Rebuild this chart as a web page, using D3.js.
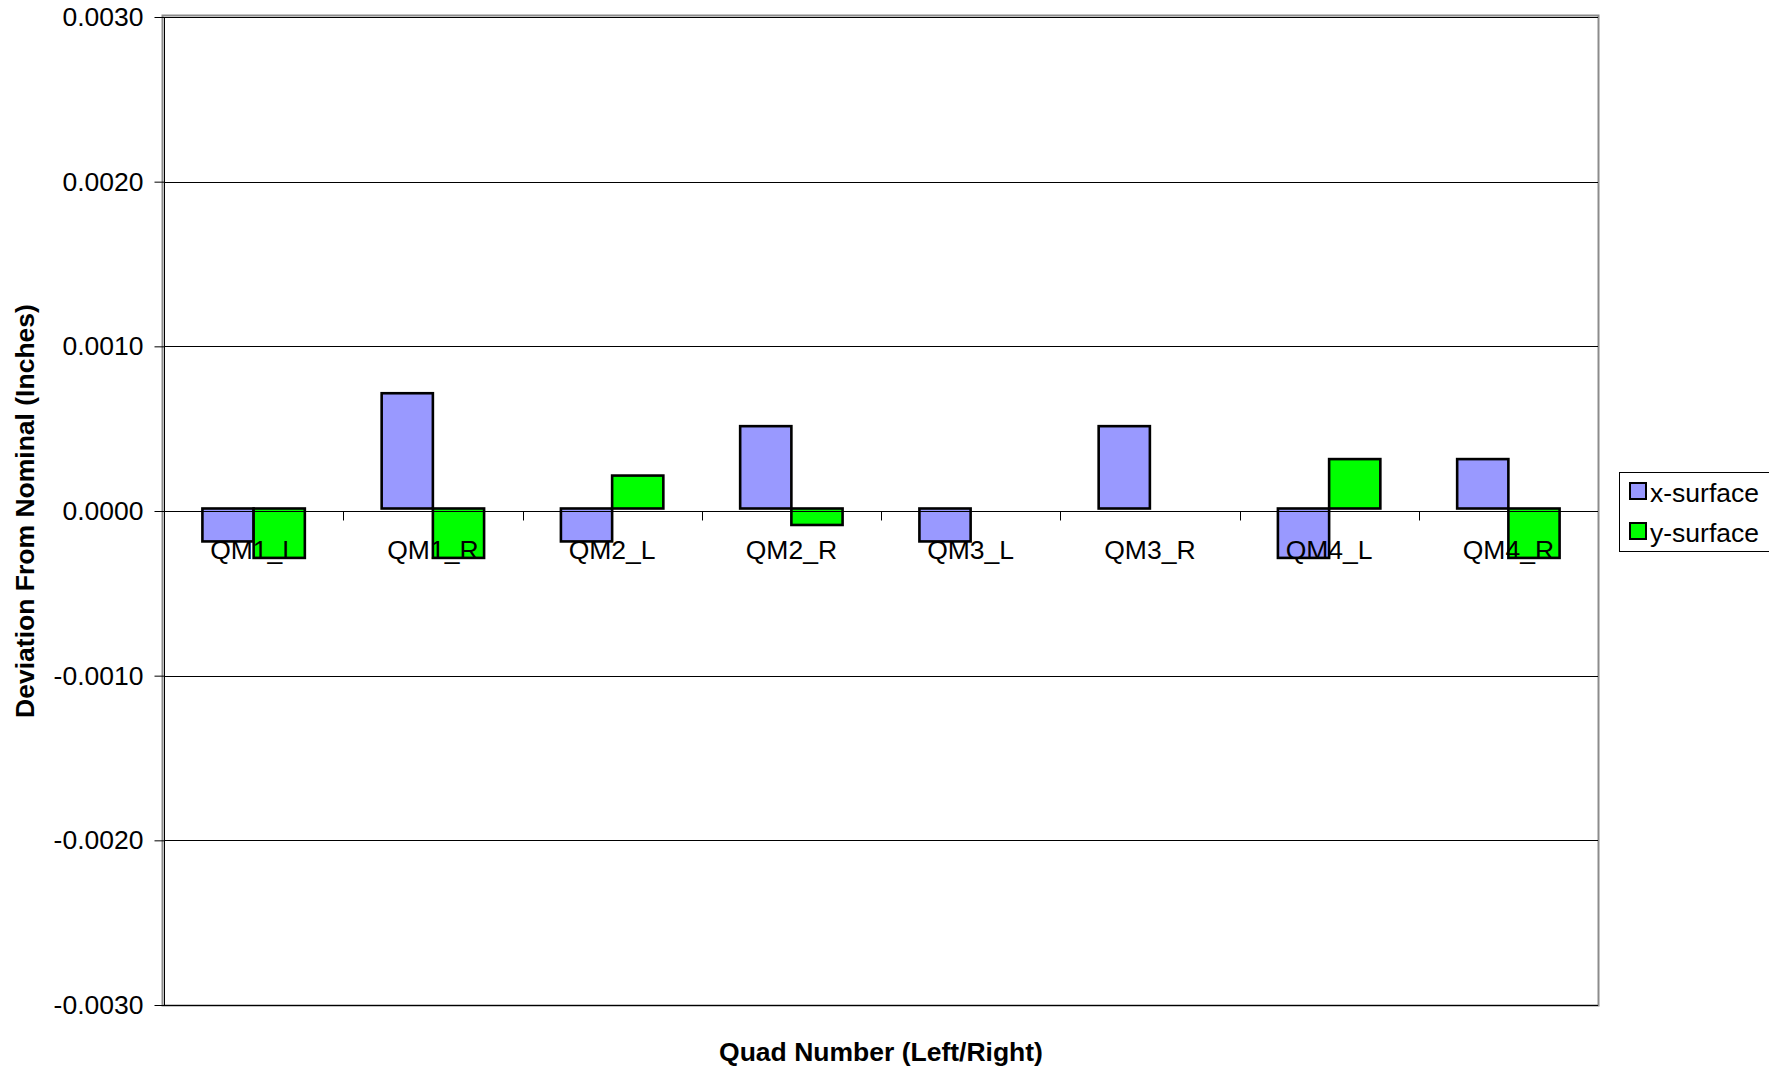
<!DOCTYPE html>
<html>
<head>
<meta charset="utf-8">
<script src="https://cdn.jsdelivr.net/npm/d3@7"></script>
<style>
  body { margin: 0; background: #fff; }
  svg { display: block; font-family: "Liberation Sans", Arial, sans-serif; }
</style>
</head>
<body>
<svg width="1769" height="1068"></svg>
<script>
// data
const categories = ["QM1_L", "QM1_R", "QM2_L", "QM2_R", "QM3_L", "QM3_R", "QM4_L", "QM4_R"];
const seriesNames = ["x-surface", "y-surface"];
const xSurface = [-0.0002, 0.0007, -0.0002, 0.0005, -0.0002, 0.0005, -0.0003, 0.0003];
const ySurface = [-0.0003, -0.0003, 0.0002, -0.0001, null, null, 0.0003, -0.0003];
const yTicks = [-0.003, -0.002, -0.001, 0, 0.001, 0.002, 0.003];
const colors = ["#9999ff", "#00ff00"];

const svg = d3.select("svg");
const plot = { left: 164, right: 1598, top: 17, bottom: 1005 };
const fontSize = "26.5px";

const x0 = d3.scaleBand()
  .domain(categories)
  .range([plot.left, plot.right])
  .padding(0);

const x1 = d3.scaleBand()
  .domain(seriesNames)
  .range([0, x0.bandwidth()])
  .paddingInner(0)
  .paddingOuter(0.75);

const y = d3.scaleLinear()
  .domain([-0.003, 0.003])
  .range([plot.bottom, plot.top]);

const color = d3.scaleOrdinal(seriesNames, colors);

// plot border (grey frame)
svg.append("rect")
  .attr("x", plot.left - 1.5)
  .attr("y", plot.top - 1.5)
  .attr("width", plot.right - plot.left + 2)
  .attr("height", plot.bottom - plot.top + 2)
  .attr("fill", "none")
  .attr("stroke", "#8c8c8c")
  .attr("stroke-width", 2);

// gridlines + y axis
const yAxis = d3.axisLeft(y)
  .tickValues(yTicks)
  .tickSize(10)
  .tickPadding(11)
  .tickFormat(d => d.toFixed(4));

svg.append("g")
  .attr("class", "grid")
  .selectAll("line")
  .data(yTicks)
  .join("line")
  .attr("x1", plot.left)
  .attr("x2", plot.right)
  .attr("y1", d => Math.round(y(d)) + 0.5)
  .attr("y2", d => Math.round(y(d)) + 0.5)
  .attr("stroke", "#000")
  .attr("stroke-width", 1);

const gy = svg.append("g")
  .attr("transform", `translate(${plot.left + 0.5},0)`)
  .call(yAxis);
gy.select(".domain").attr("stroke", "#000").attr("d", `M0,${plot.top}V${plot.bottom}`);
gy.selectAll(".tick line").attr("stroke", "#000");
gy.selectAll(".tick text")
  .attr("fill", "#000")
  .style("font-size", fontSize)
  .style("font-family", "Liberation Sans, Arial, sans-serif");

// bars
const rows = categories.map((c, i) => ({ cat: c, values: [xSurface[i], ySurface[i]] }));

const barG = svg.append("g").attr("transform", "translate(0,-2.5)");
barG.selectAll("g")
  .data(rows)
  .join("g")
  .attr("transform", d => `translate(${x0(d.cat)},0)`)
  .selectAll("rect")
  .data(d => d.values.map((v, k) => ({ key: seriesNames[k], value: v })).filter(e => e.value !== null))
  .join("rect")
  .attr("x", d => x1(d.key))
  .attr("width", x1.bandwidth())
  .attr("y", d => Math.min(y(d.value), y(0)))
  .attr("height", d => Math.abs(y(d.value) - y(0)))
  .attr("fill", d => color(d.key))
  .attr("stroke", "#000")
  .attr("stroke-width", 2.6);

// category axis on the zero line
const zeroY = Math.round(y(0)) + 0.5;
svg.append("line")
  .attr("x1", plot.left)
  .attr("x2", plot.right)
  .attr("y1", zeroY)
  .attr("y2", zeroY)
  .attr("stroke", "#000")
  .attr("stroke-width", 1);

svg.append("g")
  .selectAll("line")
  .data(categories.slice(1))
  .join("line")
  .attr("x1", d => Math.round(x0(d)) + 0.5)
  .attr("x2", d => Math.round(x0(d)) + 0.5)
  .attr("y1", zeroY)
  .attr("y2", zeroY + 9)
  .attr("stroke", "#000");

svg.append("g")
  .selectAll("text")
  .data(categories)
  .join("text")
  .attr("x", d => x0(d) + x0.bandwidth() / 2)
  .attr("y", zeroY + 47)
  .attr("text-anchor", "middle")
  .style("font-size", fontSize)
  .text(d => d);

// axis titles
svg.append("text")
  .attr("x", (plot.left + plot.right) / 2)
  .attr("y", 1061)
  .attr("text-anchor", "middle")
  .style("font-size", fontSize)
  .style("font-weight", "bold")
  .text("Quad Number (Left/Right)");

svg.append("text")
  .attr("transform", `translate(34,${(plot.top + plot.bottom) / 2}) rotate(-90)`)
  .attr("text-anchor", "middle")
  .style("font-size", fontSize)
  .style("font-weight", "bold")
  .text("Deviation From Nominal (Inches)");

// legend
const legend = svg.append("g").attr("transform", "translate(1619,472)");
legend.append("rect")
  .attr("x", 0.5)
  .attr("y", 0.5)
  .attr("width", 160)
  .attr("height", 79)
  .attr("fill", "#fff")
  .attr("stroke", "#000")
  .attr("stroke-width", 1);

const item = legend.selectAll("g.item")
  .data(seriesNames)
  .join("g")
  .attr("class", "item")
  .attr("transform", (d, i) => `translate(11,${10 + i * 40})`);

item.append("rect")
  .attr("width", 16)
  .attr("height", 16)
  .attr("y", 1)
  .attr("fill", d => color(d))
  .attr("stroke", "#000")
  .attr("stroke-width", 2);

item.append("text")
  .attr("x", 20)
  .attr("y", 20)
  .style("font-size", fontSize)
  .text(d => d);
</script>
</body>
</html>
